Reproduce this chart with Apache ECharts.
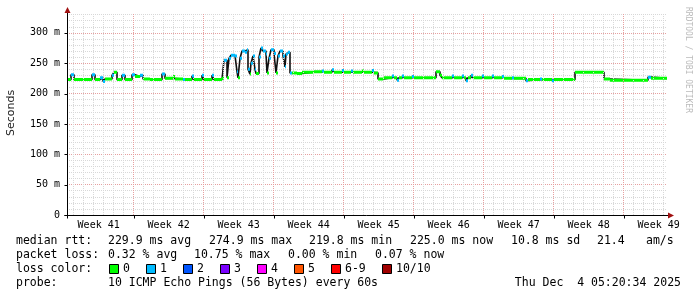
<!DOCTYPE html>
<html><head><meta charset="utf-8">
<script src="https://cdn.jsdelivr.net/npm/echarts@6/dist/echarts.min.js"></script>
<style>html,body{margin:0;padding:0;background:#fff}#c{width:697px;height:297px}</style>
</head><body><div id="c"></div>
<script>
// ---- data (time in days from left edge of the graph) ----
const sampleDays = [
  0.0,0.4,0.7,2.5,2.8,3.3,3.6,3.8,4.5,4.7,5.0,5.5,5.8,6.5,6.8,7.3,7.6,8.3,9.5,9.8,
  10.6,10.8,11.6,11.8,12.5,12.7,13.5,13.7,14.5,14.7,
  15.5,15.7,16.0,16.2,16.4,16.8,17.0,17.1,17.3,17.5,17.8,18.0,18.1,18.3,18.4,18.6,18.8,18.9,
  19.2,19.4,19.6,19.9,20.0,20.2,20.4,20.7,20.9,21.1,21.3,21.6,21.8,21.9,22.1,22.3,
  22.5,23.0,23.5,24.6,25.5,25.7,26.5,26.7,27.5,27.7,28.4,28.6,29.5,29.7,30.5,30.7,
  31.1,31.7,32.5,32.7,33.0,33.2,33.5,33.7,34.5,34.7,36.9,37.3,37.5,38.5,38.7,39.5,39.7,
  39.9,40.1,40.4,40.6,41.5,41.7,42.5,42.7,43.5,43.7,44.5,44.7,45.9,46.1,47.3,47.5,48.5,48.7,
  50.8,53.7,54.3,58.1,58.4
];
const medianMs = [
  223,231,223,231,223,226,220,224,230,235,223,230,223,231,228,230,224,223,232,225,
  228,224,223,223,229,223,230,223,230,223,
  225,255,226,258,263,262,236,226,258,270,268,272,240,232,250,262,240,233,
  260,275,270,265,234,258,272,266,234,262,270,262,244,265,268,234,
  234,233,235,236,237,235,239,235,238,235,237,235,237,235,238,234,
  224,226,229,226,222,226,229,226,228,226,236,230,226,229,226,229,226,
  221,226,230,226,229,226,229,226,228,225,226,225,221,223,224,223,221,223,
  235,224,222,227,225
];
const lossCount = [
  0,1,0,1,0,1,1,0,1,0,0,1,0,1,0,1,0,0,1,0,
  0,0,1,0,1,0,1,0,1,0,
  0,1,0,1,1,1,1,0,1,1,1,1,1,0,1,1,1,0,
  1,1,1,1,0,1,1,1,0,1,1,1,1,1,1,1,
  0,0,0,0,1,0,1,0,1,0,1,0,0,0,1,0,
  0,0,1,0,1,0,1,0,1,0,0,0,0,1,0,1,0,
  1,0,1,0,1,0,1,0,1,0,1,0,1,0,1,0,1,0,
  0,0,0,1,0
];
const graphDays = 60;
const weekLabels = ['Week 41','Week 42','Week 43','Week 44','Week 45','Week 46','Week 47','Week 48','Week 49'];
const yTickValues = [0,50,100,150,200,250,300];
const lossLegend = ['0','1','2','3','4','5','6-9','10/10'];
const lossColors = ['#00ff00','#00bbff','#0055ff','#7a00ff','#ff00ff','#ff5500','#ff0000','#a00000'];
const statsRtt = ['229.9 ms avg','274.9 ms max','219.8 ms min','225.0 ms now','10.8 ms sd','21.4','am/s'];
const statsLoss = ['0.32 % avg','10.75 % max','0.00 % min','0.07 % now'];
const probeText = '10 ICMP Echo Pings (56 Bytes) every 60s';
const dateText = 'Thu Dec  4 05:20:34 2025';

// ---- layout constants ----
const G = {left:67, top:14, width:600, height:201};
const yMax = 331;
const firstDayLine = 0.667;   // first midnight after graph start (days)
const firstWeekLine = 6.667;  // first week boundary (days)

const dayLines = [], weekLines = [], weekCenters = [];
for (let d = firstDayLine; d < graphDays; d += 1) dayLines.push(+d.toFixed(3));
for (let w = firstWeekLine; w < graphDays; w += 7) weekLines.push(+w.toFixed(3));
for (let i = 0; i < weekLabels.length; i++) weekCenters.push(+(firstWeekLine - 3.5 + 7 * i).toFixed(3));
const isWeek = d => weekLines.some(w => Math.abs(w - d) < 0.01);

const minorC = '#d8d8d8', majorC = '#e6a0a0';
const mlData = dayLines.map(d => ({xAxis: d, lineStyle: {color: isWeek(d) ? majorC : minorC, type: [1,1], width: 1}}));

function lossClass(n){ if (n <= 5) return n; if (n < 10) return 6; return 7; }

const blackData = sampleDays.map((d,i) => [d, medianMs[i]]);
blackData.push([graphDays, medianMs[medianMs.length-1]]);

const classData = lossColors.map(() => []);
for (let i = 0; i < sampleDays.length; i++) {
  const c = lossClass(lossCount[i]);
  const end = i + 1 < sampleDays.length ? sampleDays[i+1] : graphDays;
  classData[c].push([sampleDays[i], medianMs[i]], [end, medianMs[i]], [end, null]);
}

const series = [{
  type: 'line', data: [], silent: true, z: 1,
  markLine: {silent: true, symbol: 'none', animation: false, label: {show: false}, data: mlData}
}, {
  type: 'line', step: 'end', data: blackData, symbol: 'none', z: 3,
  lineStyle: {color: '#111', width: 1.6}
}];
classData.forEach((dat, c) => {
  if (!dat.length) return;
  series.push({type: 'line', data: dat, symbol: 'none', z: 4 + c, connectNulls: false,
    lineStyle: {color: lossColors[c], width: 3, cap: 'butt'}});
});

const mono = '"DejaVu Sans Mono", monospace';
const graphic = [];
function txt(x, y, s, opts) {
  graphic.push(Object.assign({type: 'text', x: x, y: y, silent: true, z: 100,
    style: Object.assign({text: s, font: '11.5px ' + mono, fill: '#000', align: 'left', verticalAlign: 'middle',
      textAlign: 'left', textVerticalAlign: 'middle'}, (opts && opts.style) || {})}, (opts && opts.el) || {}));
}
// legend rows
const rowY = [241.5, 255.5, 269, 283];
txt(16, rowY[0], 'median rtt:');
const rttX = [108, 209, 309, 410, 511, 597, 646];
statsRtt.forEach((s, i) => txt(rttX[i], rowY[0], s));
txt(16, rowY[1], 'packet loss:');
const lossX = [108, 194, 288, 375];
statsLoss.forEach((s, i) => txt(lossX[i], rowY[1], s));
txt(16, rowY[2], 'loss color:');
const boxX = [109, 146, 183, 220, 257, 294, 331, 382];
lossLegend.forEach((s, i) => {
  graphic.push({type: 'rect', silent: true, z: 100, shape: {x: boxX[i] + 0.5, y: 264.5, width: 9, height: 9},
    style: {fill: lossColors[i], stroke: '#000', lineWidth: 1}});
  txt(boxX[i] + 14, rowY[2], s);
});
txt(16, rowY[3], 'probe:');
txt(108, rowY[3], probeText);
txt(681, rowY[3], dateText, {style: {align: 'right', textAlign: 'right'}});
// axis title
txt(11.5, 113, 'Seconds', {el: {rotation: Math.PI / 2}, style: {font: '11px "DejaVu Sans", sans-serif', align: 'center', textAlign: 'center', fill: '#222'}});
// watermark
txt(688, 60, 'RRDTOOL / TOBI OETIKER', {el: {rotation: -Math.PI / 2}, style: {font: '8px ' + mono, align: 'center', textAlign: 'center', fill: '#bbbbbb'}});

const chart = echarts.init(document.getElementById('c'), null, {renderer: 'canvas', width: 697, height: 297});
const option = {
  animation: false,
  backgroundColor: '#fff',
  grid: {left: G.left, top: G.top, width: G.width, height: G.height, containLabel: false},
  xAxis: {
    type: 'value', min: 0, max: graphDays,
    axisLine: {show: false},
    splitLine: {show: false},
    axisTick: {show: false},
    axisLabel: {customValues: weekCenters, margin: 5, fontFamily: 'DejaVu Sans Mono', fontSize: 10, color: '#000',
      formatter: v => { let k = 0, best = 1e9; weekCenters.forEach((c, i) => { if (Math.abs(c - v) < best) { best = Math.abs(c - v); k = i; } }); return weekLabels[k]; }}
  },
  yAxis: {
    type: 'value', min: 0, max: yMax, interval: 10,
    axisLine: {show: false},
    axisTick: {show: false},
    splitLine: {show: true, lineStyle: {color: [majorC, minorC, minorC, minorC, minorC], type: [1,1], width: 1}},
    axisLabel: {margin: 7, fontFamily: 'DejaVu Sans Mono', fontSize: 10, color: '#000',
      formatter: v => yTickValues.indexOf(v) >= 0 ? (v === 0 ? '0' : v + ' m') : ''}
  },
  series: series
};
chart.setOption(option);

// axis lines, week ticks and arrows positioned through the chart's own scales
const x0 = Math.round(chart.convertToPixel({xAxisIndex: 0}, 0)) + 0.5;
const x1 = chart.convertToPixel({xAxisIndex: 0}, graphDays);
const y0 = Math.round(chart.convertToPixel({yAxisIndex: 0}, 0)) + 0.5;
const yTop = chart.convertToPixel({yAxisIndex: 0}, yMax);
const deco = [];
deco.push({type: 'line', silent: true, z: 100, shape: {x1: x0, y1: yTop - 2, x2: x0, y2: y0 + 3}, style: {stroke: '#000', lineWidth: 1}});
deco.push({type: 'line', silent: true, z: 100, shape: {x1: x0 - 3, y1: y0, x2: x1 + 1, y2: y0}, style: {stroke: '#000', lineWidth: 1}});
weekLines.forEach(w => {
  const px = Math.round(chart.convertToPixel({xAxisIndex: 0}, w)) + 0.5;
  deco.push({type: 'line', silent: true, z: 100, shape: {x1: px, y1: y0, x2: px, y2: y0 + 3}, style: {stroke: '#000', lineWidth: 1}});
});
yTickValues.forEach(v => {
  const py = Math.round(chart.convertToPixel({yAxisIndex: 0}, v)) + 0.5;
  deco.push({type: 'line', silent: true, z: 100, shape: {x1: x0 - 3, y1: py, x2: x0, y2: py}, style: {stroke: '#000', lineWidth: 1}});
});
deco.push({type: 'polygon', silent: true, z: 101, shape: {points: [[x0 - 3, yTop - 1], [x0 + 3, yTop - 1], [x0, yTop - 7]]}, style: {fill: '#a01010'}});
deco.push({type: 'polygon', silent: true, z: 101, shape: {points: [[x1 + 1, y0 - 3], [x1 + 1, y0 + 3], [x1 + 7, y0]]}, style: {fill: '#a01010'}});
chart.setOption({graphic: graphic.concat(deco)});
</script></body></html>
